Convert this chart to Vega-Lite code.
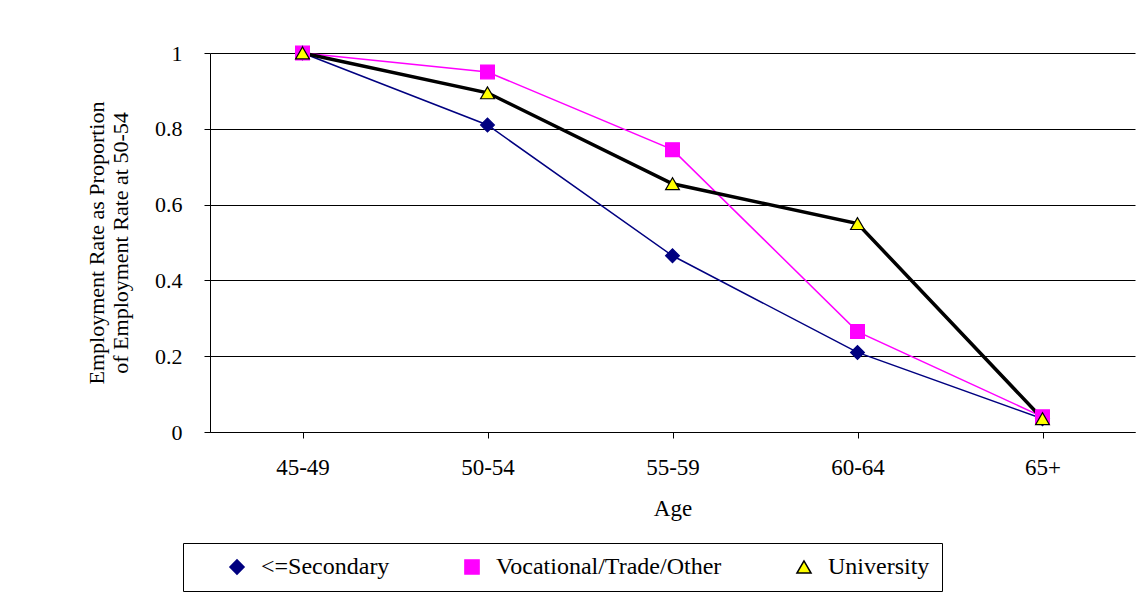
{
  "$schema": "https://vega.github.io/schema/vega-lite/v6.json",
  "autosize": {"type": "none"},
  "width": 925,
  "height": 379,
  "padding": {"left": 210, "top": 53, "right": 11, "bottom": 184},
  "background": "white",
  "config": {
    "font": "Liberation Serif",
    "view": {"stroke": null}
  },
  "data": {
    "values": [
      {"age": "45-49", "edu": "<=Secondary", "v": 1},
      {"age": "50-54", "edu": "<=Secondary", "v": 0.81},
      {"age": "55-59", "edu": "<=Secondary", "v": 0.465},
      {"age": "60-64", "edu": "<=Secondary", "v": 0.21},
      {"age": "65+", "edu": "<=Secondary", "v": 0.035},
      {"age": "45-49", "edu": "Vocational/Trade/Other", "v": 1},
      {"age": "50-54", "edu": "Vocational/Trade/Other", "v": 0.95},
      {"age": "55-59", "edu": "Vocational/Trade/Other", "v": 0.745},
      {"age": "60-64", "edu": "Vocational/Trade/Other", "v": 0.265},
      {"age": "65+", "edu": "Vocational/Trade/Other", "v": 0.04},
      {"age": "45-49", "edu": "University", "v": 1},
      {"age": "50-54", "edu": "University", "v": 0.895},
      {"age": "55-59", "edu": "University", "v": 0.655},
      {"age": "60-64", "edu": "University", "v": 0.55},
      {"age": "65+", "edu": "University", "v": 0.035}
    ]
  },
  "encoding": {
    "x": {"field": "age", "type": "ordinal", "sort": null, "scale": {"paddingInner": 0, "paddingOuter": 0},
      "axis": {"title": "Age", "labelAngle": 0, "bandPosition": 0, "tickSize": 6, "labelPadding": 18, "titlePadding": 18, "grid": false,
        "labelFont": "Times New Roman, Liberation Serif, serif", "titleFont": "Times New Roman, Liberation Serif, serif", "labelFontSize": 23, "titleFontSize": 23, "titleFontWeight": "normal", "labelColor": "black", "titleColor": "black", "domainColor": "black", "tickColor": "black"}},
    "y": {"field": "v", "type": "quantitative", "scale": {"domain": [0, 1]},
      "axis": {"title": ["Employment Rate as Proportion", "of Employment Rate at 50-54"], "values": [0, 0.2, 0.4, 0.6, 0.8, 1], "labelExpr": "datum.value == 0 ? '0' : datum.value == 1 ? '1' : format(datum.value, '.1f')", "labelOverlap": false, "grid": true, "gridColor": "black", "gridWidth": 1, "tickSize": 6, "labelPadding": 22, "titlePadding": 22,
        "labelFont": "Times New Roman, Liberation Serif, serif", "titleFont": "Times New Roman, Liberation Serif, serif", "labelFontSize": 22, "titleFontSize": 22, "titleFontWeight": "normal", "labelColor": "black", "titleColor": "black", "domainColor": "black", "tickColor": "black"}}
  },
  "layer": [
    {
      "transform": [{"filter": "datum.edu == '<=Secondary'"}],
      "mark": {"type": "line", "color": "#000080", "strokeWidth": 1.5},
      "encoding": {}
    },
    {
      "transform": [{"filter": "datum.edu == 'Vocational/Trade/Other'"}],
      "mark": {"type": "line", "color": "#FF00FF", "strokeWidth": 1.5},
      "encoding": {}
    },
    {
      "transform": [{"filter": "datum.edu == 'University'"}],
      "mark": {"type": "line", "color": "black", "strokeWidth": 3.5},
      "encoding": {}
    },
    {
      "mark": {"type": "point", "filled": true, "size": 190, "opacity": 1, "strokeWidth": 1.2},
      "encoding": {
        "shape": {"field": "edu", "type": "nominal",
          "scale": {"domain": ["<=Secondary", "Vocational/Trade/Other", "University"], "range": ["diamond", "square", "triangle-up"]},
          "legend": {"title": null, "orient": "none", "legendX": -27, "legendY": 490, "direction": "horizontal", "strokeColor": "black", "padding": 12, "labelFontSize": 24, "labelFont": "Times New Roman, Liberation Serif, serif", "labelColor": "black", "symbolSize": 200, "symbolOffset": 30, "labelOffset": 12, "columnPadding": 40, "labelLimit": 400}},
        "fill": {"field": "edu", "type": "nominal",
          "scale": {"domain": ["<=Secondary", "Vocational/Trade/Other", "University"], "range": ["#000080", "#FF00FF", "#FFFF00"]}},
        "stroke": {"field": "edu", "type": "nominal",
          "scale": {"domain": ["<=Secondary", "Vocational/Trade/Other", "University"], "range": ["#000080", "#FF00FF", "black"]}}
      }
    }
  ]
}
